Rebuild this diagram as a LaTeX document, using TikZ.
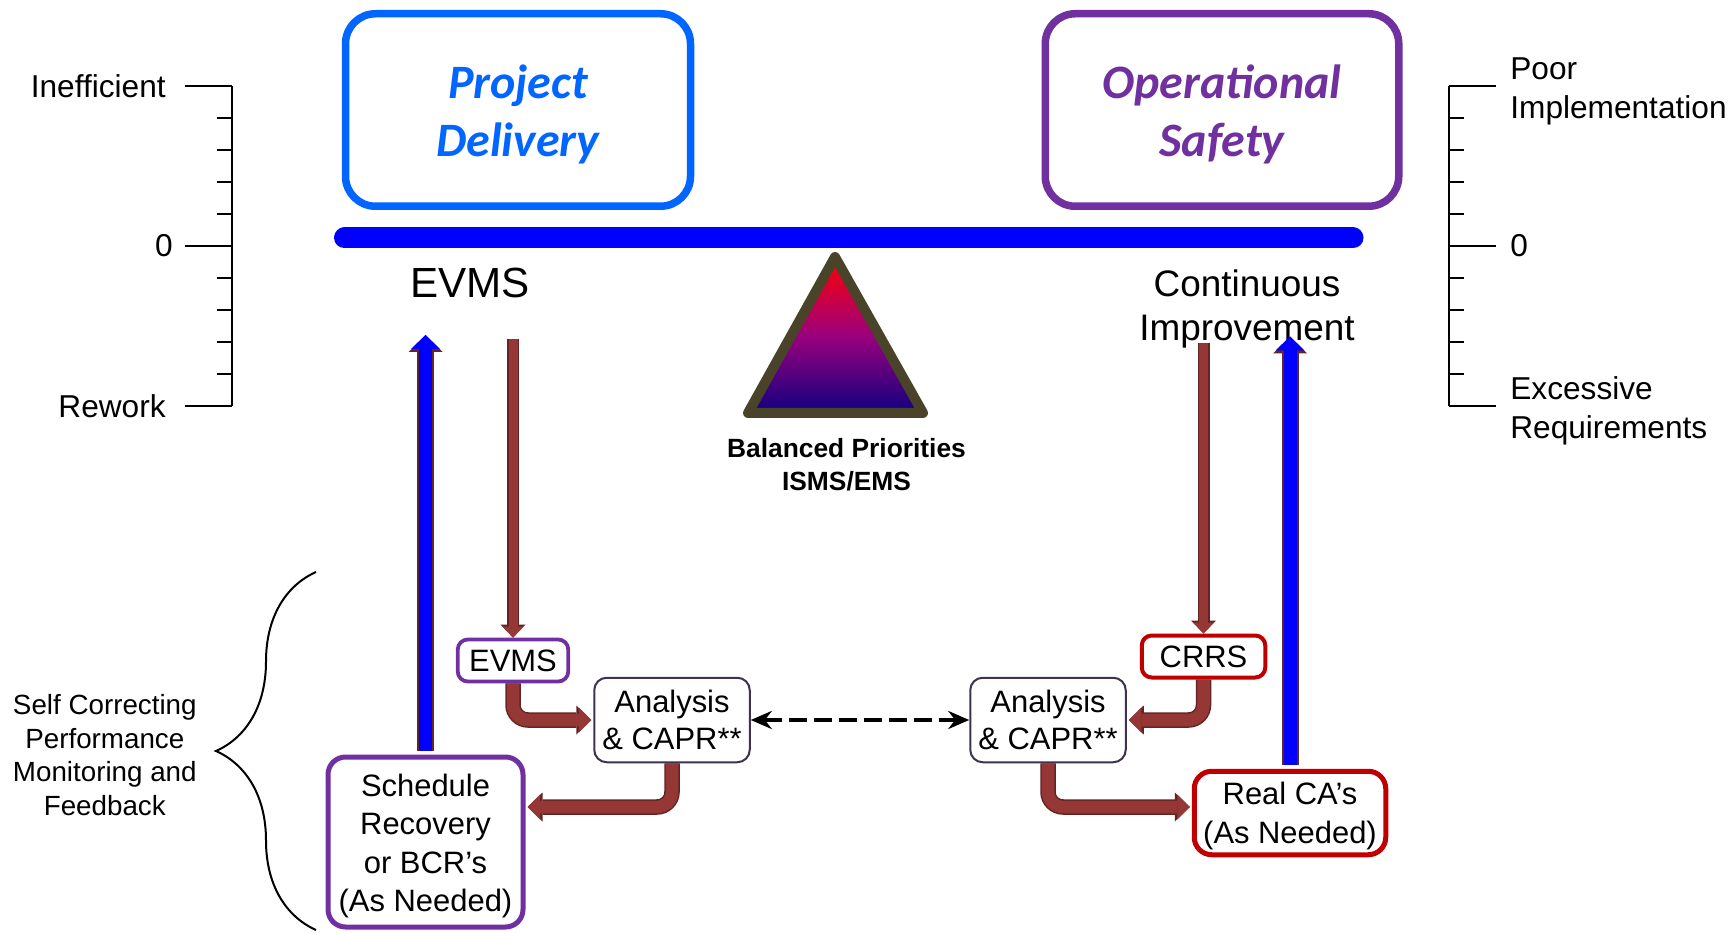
\documentclass[tikz,border=0pt]{standalone}
\usepackage{fontspec}
\setmainfont{Liberation Sans}
\newfontfamily\carlito{Carlito}
\usepackage{tikz}
\usetikzlibrary{arrows.meta, positioning, calc, decorations.pathreplacing}
\definecolor{myblue}{RGB}{0,102,255}
\definecolor{mypurple}{RGB}{112,48,160}
\definecolor{myred}{RGB}{192,0,0}
\definecolor{myframe}{RGB}{63,49,81}
\definecolor{myarrow}{RGB}{149,55,53}
\definecolor{mydark}{RGB}{99,37,35}
\definecolor{mybrown}{RGB}{73,68,41}
\definecolor{mymid}{RGB}{155,0,125}
\definecolor{mynavy}{RGB}{16,0,128}
\tikzset{
  titlebox/.style={rectangle, rounded corners=0.6cm, line width=0.15cm,
    minimum height=3.85cm, align=center, inner sep=0pt,
    font=\carlito\bfseries\itshape\fontsize{27.3}{33.2}\selectfont},
  smallbox/.style={rectangle, rounded corners=0.2cm, line width=0.075cm,
    fill=white, minimum height=0.84cm, inner sep=0pt,
    font=\fontsize{17.6}{21.3}\selectfont},
  bigbox/.style={rectangle, rounded corners=0.35cm, line width=0.1cm,
    fill=white, align=center, inner sep=0pt,
    font=\fontsize{17.6}{21.9}\selectfont},
  anlbox/.style={rectangle, rounded corners=0.25cm, line width=0.04cm,
    draw=myframe, fill=white, minimum width=3.11cm, minimum height=1.69cm,
    align=center, inner sep=0pt, font=\fontsize{17.6}{21.3}\selectfont},
  scaleline/.style={line width=0.04cm, color=black},
  scalelabel/.style={inner sep=0pt, align=left,
    font=\fontsize{18}{22.2}\selectfont},
  beam/.style={line width=0.42cm, line cap=round, color=blue},
  pivot/.style={top color=red, bottom color=mynavy, middle color=mymid,
    draw=mybrown, line width=0.2cm, line join=round},
  feedarrow/.style={draw=blue, line width=0.26cm, shorten <=0.08cm,
    -{Triangle[length=0.28cm, width=0.58cm, line width=0pt]},
    preaction={draw=mydark, line width=0.34cm,
      -{Triangle[length=0.34cm, width=0.68cm, line width=0pt]}}},
  downarrow/.style={draw=myarrow, line width=0.18cm,
    -{Triangle[length=0.22cm, width=0.42cm, line width=0pt]},
    preaction={draw=mydark, line width=0.24cm,
      -{Triangle[length=0.26cm, width=0.5cm, line width=0pt]}}},
  bentarrow/.style={draw=myarrow, line width=0.25cm, rounded corners=0.3cm,
    shorten >=0.04cm,
    -{Triangle[length=0.25cm, width=0.5cm, line width=0pt]},
    preaction={draw=mydark, line width=0.31cm,
      -{Triangle[length=0.3cm, width=0.58cm, line width=0pt]}}},
  dasharrow/.style={<->, >={Stealth[length=0.42cm, width=0.36cm]},
    line width=0.095cm, dash pattern=on 0.36cm off 0.14cm},
  groupbrace/.style={decorate, decoration={brace, amplitude=2cm},
    line width=0.04cm}
}

\begin{document}
\begin{tikzpicture}
  \useasboundingbox (0,0) rectangle (34.62,18.64);

  % Left scale
  \draw[scaleline] (4.64,16.92) -- (4.64,10.52);
  \foreach \k in {1,...,9}
    \draw[scaleline] (4.64,16.92-0.64*\k) -- ++(-0.30,0);
  \foreach \y in {16.92,13.72,10.52}
    \draw[scaleline] (4.64,\y) -- ++(-0.94,0);
  \node[scalelabel, anchor=east] (ineff) at (3.32,16.92) {Inefficient};
  \node[scalelabel, anchor=east] (lzero) at (3.46,13.72) {0};
  \node[scalelabel, anchor=east] (rework) at (3.32,10.52) {Rework};

  % Right scale
  \draw[scaleline] (28.98,16.92) -- (28.98,10.52);
  \foreach \k in {1,...,9}
    \draw[scaleline] (28.98,16.92-0.64*\k) -- ++(0.30,0);
  \foreach \y in {16.92,13.72,10.52}
    \draw[scaleline] (28.98,\y) -- ++(0.94,0);
  \node[scalelabel, anchor=west] (poor) at (30.20,16.82) {Poor\\Implementation};
  \node[scalelabel, anchor=west] (rzero) at (30.20,13.72) {0};
  \node[scalelabel, anchor=west] (excess) at (30.20,10.42) {Excessive\\Requirements};

  % Top boxes
  \node[titlebox, draw=myblue, text=myblue, minimum width=6.9cm] (pd) at (10.36,16.44) {\rule{0pt}{24pt}Project\\Delivery};
  \node[titlebox, draw=mypurple, text=mypurple, minimum width=7.07cm] (os) at (24.44,16.44) {\rule{0pt}{24pt}Operational\\Safety};

  % Beam and pivot
  \draw[beam] (6.89,13.88) -- (27.06,13.88);
  \shadedraw[pivot] (16.70,13.50) -- (18.46,10.38) -- (14.96,10.38) -- cycle;
  \node[align=center, inner sep=0pt, font=\bfseries\fontsize{15}{18.8}\selectfont] (bal) at (16.93,9.35) {Balanced Priorities\\ISMS/EMS};

  % Labels under the beam
  \node[anchor=base, inner sep=0pt, font=\fontsize{24}{28}\selectfont] (evmstop) at (9.40,12.68) {EVMS};
  \node[align=center, inner sep=0pt, font=\fontsize{21}{25.4}\selectfont] (ci) at (24.94,12.46) {Continuous\\Improvement};

  % Project side loop
  \node[bigbox, draw=mypurple, minimum width=3.90cm, minimum height=3.40cm] (sched) at (8.51,1.80) {\rule{0pt}{17.5pt}Schedule\\Recovery\\or BCR’s\\(As Needed)};
  \node[smallbox, draw=mypurple, minimum width=2.21cm] (evms) at (10.26,5.43) {EVMS};
  \node[anlbox] (anlL) at (13.44,4.24) {Analysis\\\& CAPR**};

  % Safety side loop
  \node[smallbox, draw=myred, line width=0.08cm, minimum width=2.47cm] (crrs) at (24.07,5.51) {CRRS};
  \node[anlbox] (anlR) at (20.96,4.24) {Analysis\\\& CAPR**};
  \node[bigbox, draw=myred, minimum width=3.83cm, minimum height=1.67cm] (real) at (25.80,2.38) {\rule{0pt}{16.4pt}Real CA’s\\(As Needed)};

  % Vertical feeds
  \coordinate (pdtip) at (8.51,11.94);
  \coordinate (evmsfeed) at (10.26,11.86);
  \coordinate (citip) at (25.80,11.91);
  \coordinate (cifeed) at (24.07,11.78);
  \draw[feedarrow] (sched.north) -- (pdtip);
  \draw[downarrow] (evmsfeed) -- (evms.north);
  \draw[downarrow] (cifeed) -- (crrs.north);
  \draw[feedarrow] (real.north) -- (citip);

  % Bent arrows
  \draw[bentarrow] (evms.south) |- (anlL.west);
  \draw[bentarrow] (anlL.south) |- ([yshift=0.70cm]sched.east);
  \draw[bentarrow] (crrs.south) |- (anlR.east);
  \draw[bentarrow] (anlR.south) |- ([yshift=0.12cm]real.west);
  \draw[dasharrow] (anlL.east) -- (anlR.west);

  % Brace and its label
  \draw[groupbrace] (6.32,0.04) -- (6.32,7.20);
  \coordinate (bracetip) at (4.32,3.54);
  \node[align=center, inner sep=0pt, left=0.38cm of bracetip,
    font=\fontsize{15.8}{19}\selectfont] (selfcorr) {Self Correcting\\Performance\\Monitoring and\\Feedback};
\end{tikzpicture}
\end{document}
